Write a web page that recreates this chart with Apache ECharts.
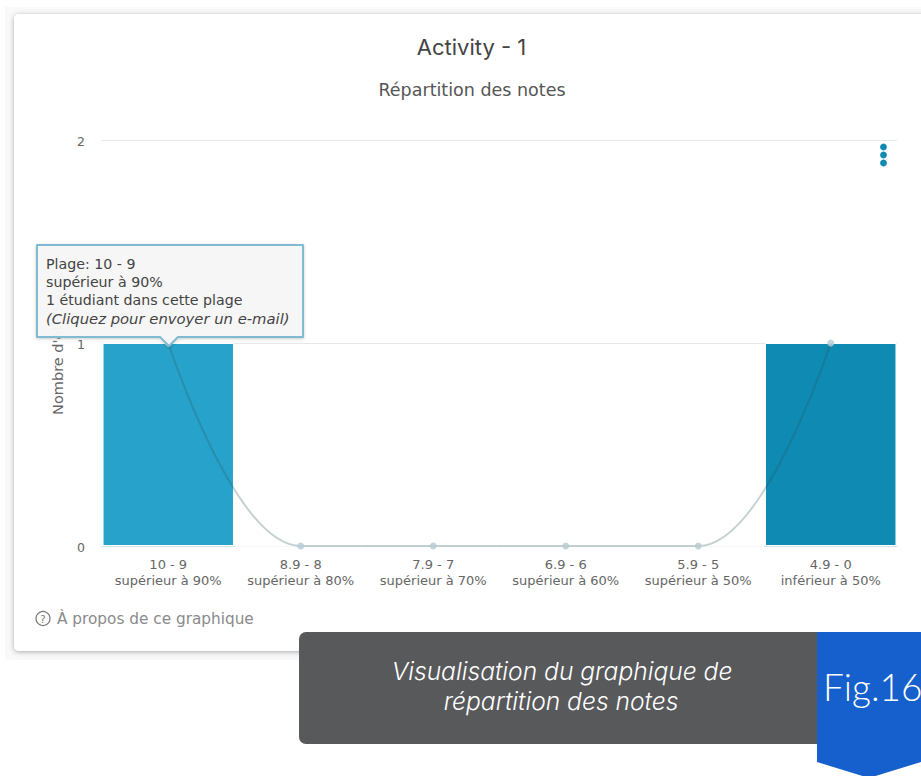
<!DOCTYPE html>
<html>
<head>
<meta charset="utf-8">
<style>html,body{margin:0;padding:0;background:#fff}#chart{width:921px;height:776px}</style>
<script src="https://cdn.jsdelivr.net/npm/echarts@6/dist/echarts.min.js"></script>
</head>
<body>
<div id="chart"></div>
<script>
// Grade bands and number of students in each band
const bandRanges = ['10 - 9', '8.9 - 8', '7.9 - 7', '6.9 - 6', '5.9 - 5', '4.9 - 0'];
const bandNotes = ['supérieur à 90%', 'supérieur à 80%', 'supérieur à 70%', 'supérieur à 60%', 'supérieur à 50%', 'inférieur à 50%'];
const studentCounts = [1, 0, 0, 0, 0, 1];
const barColors = ['#27a3cb', '#27a3cb', '#27a3cb', '#27a3cb', '#27a3cb', '#0f8ab2'];
const yTicks = [0, 1, 2];

const categories = bandRanges.map((r, i) => r + '\n' + bandNotes[i]);
const font = '"DejaVu Sans", Inter, sans-serif';
const titleFont = 'Inter, "Noto Sans", sans-serif';
const grey = '#666666';

const chart = echarts.init(document.getElementById('chart'), null, { renderer: 'svg' });

chart.setOption({
  animation: false,
  textStyle: { fontFamily: font },
  grid: { left: 102, right: 24, top: 140, height: 406, containLabel: false },
  xAxis: {
    type: 'category',
    data: categories,
    axisTick: { show: false },
    axisLine: { lineStyle: { color: '#d5e0ec', width: 1 } },
    axisLabel: { color: grey, fontSize: 13, lineHeight: 16, margin: 10, interval: 0, fontFamily: font }
  },
  yAxis: {
    type: 'value',
    min: yTicks[0],
    max: yTicks[yTicks.length - 1],
    interval: 1,
    name: "Nombre d'étudiants",
    nameLocation: 'middle',
    nameGap: 37,
    nameTextStyle: { color: grey, fontSize: 14.5, fontFamily: font },
    axisLabel: { color: grey, fontSize: 12.5, margin: 17, verticalAlign: 'top', lineHeight: 3, fontFamily: font },
    splitLine: { lineStyle: { color: '#e8e8e8', width: 1 } }
  },
  series: [
    {
      type: 'bar',
      z: 2,
      barWidth: '99.2%',
      data: studentCounts.map((v, i) => ({
        value: v,
        itemStyle: { color: barColors[i], borderColor: '#ffffff', borderWidth: 1 }
      }))
    },
    {
      type: 'line',
      z: 3,
      data: studentCounts,
      smooth: 0.5,
      smoothMonotone: 'x',
      symbol: 'circle',
      symbolSize: 7,
      itemStyle: { color: '#b9cdd6', opacity: 0.85 },
      lineStyle: { color: 'rgba(45,85,90,0.27)', width: 2 }
    }
  ],
  graphic: [
    // Faint page panel and the card on top of it
    { type: 'rect', z: -11, silent: true, shape: { x: 5, y: 7, width: 930, height: 653 }, style: { fill: '#f9f9f9' } },
    { type: 'rect', z: -10, silent: true, shape: { x: 14, y: 14, width: 920, height: 637, r: 5 },
      style: { fill: '#fff', shadowBlur: 5, shadowColor: 'rgba(0,0,0,0.32)', shadowOffsetY: 1 } },
    // Headings
    { type: 'text', z: 10, x: 471.5, y: 47, style: { text: 'Activity - 1', fill: '#444', font: '22px ' + titleFont, align: 'center', verticalAlign: 'middle' } },
    { type: 'text', z: 10, x: 472, y: 90, style: { text: 'Répartition des notes', fill: '#555', font: '17.5px ' + font, align: 'center', verticalAlign: 'middle' } },
    // Context menu dots
    { type: 'circle', z: 10, shape: { cx: 883.5, cy: 147, r: 3.4 }, style: { fill: '#0f8ab2' } },
    { type: 'circle', z: 10, shape: { cx: 883.5, cy: 155, r: 3.4 }, style: { fill: '#0f8ab2' } },
    { type: 'circle', z: 10, shape: { cx: 883.5, cy: 163, r: 3.4 }, style: { fill: '#0f8ab2' } },
    // Tooltip for the first band
    { type: 'polygon', z: 20, shape: { points: [[37, 245], [303, 245], [303, 337], [178, 337], [169, 346], [160, 337], [37, 337]] },
      style: { fill: 'rgba(247,247,247,0.97)', stroke: '#7fbcd2', lineWidth: 2, lineJoin: 'round', shadowBlur: 3, shadowColor: 'rgba(0,0,0,0.2)', shadowOffsetY: 1 } },
    { type: 'text', z: 21, x: 46, y: 264, style: { text: 'Plage: 10 - 9', fill: '#444', font: '14.2px ' + font, verticalAlign: 'middle' } },
    { type: 'text', z: 21, x: 46, y: 282, style: { text: 'supérieur à 90%', fill: '#444', font: '14.2px ' + font, verticalAlign: 'middle' } },
    { type: 'text', z: 21, x: 46, y: 300, style: { text: '1 étudiant dans cette plage', fill: '#444', font: '14.2px ' + font, verticalAlign: 'middle' } },
    { type: 'text', z: 21, x: 46, y: 318, style: { text: '(Cliquez pour envoyer un e-mail)', fill: '#444', font: 'italic 14.8px ' + font, verticalAlign: 'middle' } },
    // About link
    { type: 'circle', z: 10, shape: { cx: 43, cy: 618.5, r: 7 }, style: { fill: 'none', stroke: '#777', lineWidth: 1.2 } },
    { type: 'text', z: 11, x: 43, y: 619, style: { text: '?', fill: '#777', font: '10px ' + font, align: 'center', verticalAlign: 'middle' } },
    { type: 'text', z: 10, x: 57, y: 619, style: { text: 'À propos de ce graphique', fill: '#8a8a8a', font: '15.3px ' + font, verticalAlign: 'middle' } },
    // Caption band
    { type: 'rect', z: 30, shape: { x: 299, y: 632, width: 540, height: 112, r: 7 }, style: { fill: '#58595b' } },
    { type: 'text', z: 31, x: 562, y: 671, style: { text: 'Visualisation du graphique de', fill: '#fff', font: 'italic 300 24.6px Inter, sans-serif', align: 'center', verticalAlign: 'middle' } },
    { type: 'text', z: 31, x: 561, y: 701, style: { text: 'répartition des notes', fill: '#fff', font: 'italic 300 24.6px Inter, sans-serif', align: 'center', verticalAlign: 'middle' } },
    { type: 'polygon', z: 32, shape: { points: [[817, 632], [921, 632], [921, 762], [869, 778], [817, 762]] }, style: { fill: '#1560cc' } },
    { type: 'text', z: 33, x: 823, y: 686, style: { text: 'Fig.16', fill: '#fff', font: '300 37px Lato, sans-serif', verticalAlign: 'middle' } }
  ]
});
</script>
</body>
</html>
